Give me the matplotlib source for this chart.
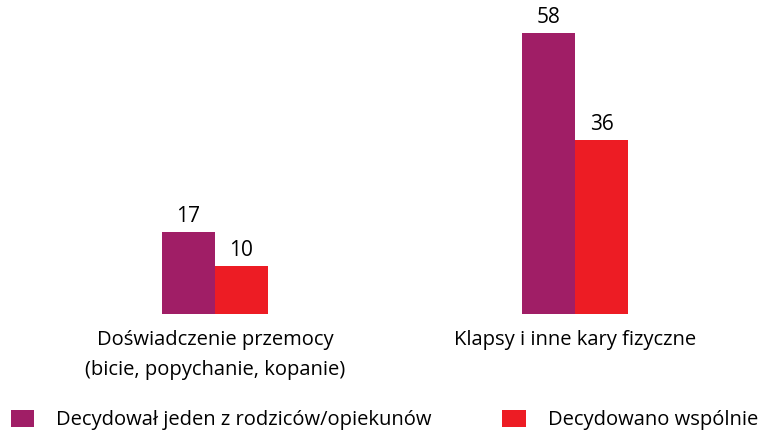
import numpy as np
import matplotlib.pyplot as plt

categories = ["Doświadczenie przemocy\n(bicie, popychanie, kopanie)", "Klapsy i inne kary fizyczne"]
series_names = ["Decydował jeden z rodziców/opiekunów", "Decydowano wspólnie"]
one_parent = [17, 58]
together = [10, 36]
colors = ["#A01E66", "#ED1C24"]

plt.rcParams['font.family'] = ['Open Sans', 'DejaVu Sans']

fig = plt.figure(figsize=(7.73, 4.30), dpi=100)
ax = fig.add_axes([0, 1 - 314 / 430, 1, 314 / 430])

x = np.arange(len(categories))
w = 0.147
b1 = ax.bar(x - w / 2, one_parent, w, color=colors[0], label=series_names[0])
b2 = ax.bar(x + w / 2, together, w, color=colors[1], label=series_names[1])
for bars, vals in [(b1, one_parent), (b2, together)]:
    for r, v in zip(bars, vals):
        ax.text(r.get_x() + r.get_width() / 2, v + 1.0, str(v), ha="center", va="bottom", fontsize=15)

ax.set_xlim(-215 / 360, 558 / 360)
ax.set_ylim(0, 314 / 4.845)
ax.axis("off")

for xi, lab in zip(x, categories):
    ax.text(xi, -3.2, lab, ha="center", va="top", fontsize=14.5, linespacing=1.7)

fig.legend(handles=[b1, b2], loc="center left", bbox_to_anchor=(-7 / 773, 1 - 420 / 430), ncol=2,
           frameon=False, fontsize=14.5, handlelength=1.15, handleheight=0.95,
           handletextpad=1.1, columnspacing=3.5)

fig.savefig("out.png")
